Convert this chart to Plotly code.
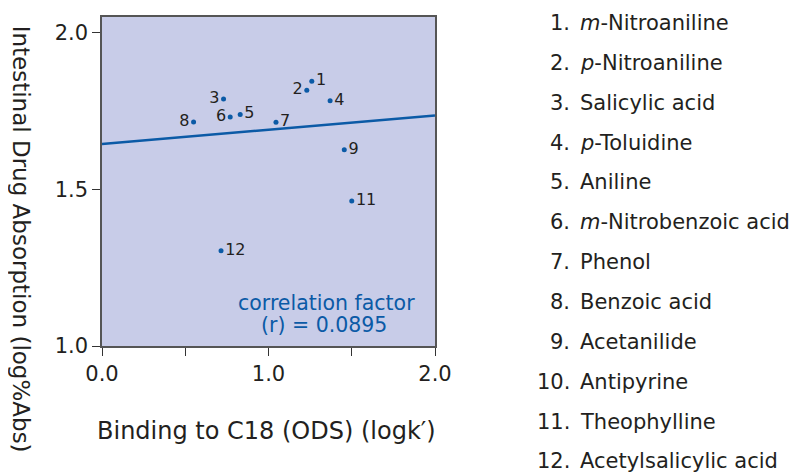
import plotly.graph_objects as go

# ---- data ----
point_ids = ["1", "2", "3", "4", "5", "6", "7", "8", "9", "11", "12"]
logk = [1.26, 1.23, 0.73, 1.37, 0.83, 0.77, 1.045, 0.55, 1.455, 1.50, 0.715]
log_abs = [1.845, 1.816, 1.788, 1.783, 1.739, 1.731, 1.714, 1.715, 1.626, 1.463, 1.304]
label_side = ["middle right", "middle left", "middle left", "middle right", "middle right",
              "middle left", "middle right", "middle left", "middle right", "middle right",
              "middle right"]
fit_x = [0.0, 2.0]
fit_y = [1.645, 1.736]
compound_numbers = ["1.", "2.", "3.", "4.", "5.", "6.", "7.", "8.", "9.", "10.", "11.", "12."]
compound_names = ["<i>m</i>-Nitroaniline", "<i>p</i>-Nitroaniline", "Salicylic acid",
                  "<i>p</i>-Toluidine", "Aniline", "<i>m</i>-Nitrobenzoic acid", "Phenol",
                  "Benzoic acid", "Acetanilide", "Antipyrine", "Theophylline",
                  "Acetylsalicylic acid"]
x_tickvals = [0.0, 0.5, 1.0, 1.5, 2.0]
x_ticktext = ["0.0", "", "1.0", "", "2.0"]
y_tickvals = [1.0, 1.5, 2.0]
y_ticktext = ["1.0", "1.5", "2.0"]

BLUE = "#0b5aa6"
TXT = "#231f20"
FONT = "DejaVu Sans"

OFF = 8  # page body margin
W, H = 799 - OFF, 472 - OFF
# plot area in reference-picture pixels
RL, RR, RT, RB = 102, 435, 15, 346
L, R, T, B = RL - OFF, RR - OFF, RT - OFF, RB - OFF


def px2paper(px, py):
    """reference-picture pixel -> paper coords"""
    return (px - RL) / (RR - RL), (RB - py) / (RB - RT)


fig = go.Figure()
fig.add_trace(go.Scatter(x=fit_x, y=fit_y, mode="lines",
                         line=dict(color=BLUE, width=2.5), hoverinfo="skip"))
fig.add_trace(go.Scatter(x=logk, y=log_abs, mode="markers+text", text=point_ids,
                         textposition=label_side,
                         textfont=dict(family=FONT, size=16, color=TXT),
                         marker=dict(color=BLUE, size=5)))

ann = []
# correlation text (two lines, tight spacing)
for txt, (px, py) in [("correlation factor", (326, 303)), ("(r) = 0.0895", (324, 325))]:
    cx, cy = px2paper(px, py)
    ann.append(dict(x=cx, y=cy, xref="paper", yref="paper", xanchor="center", yanchor="middle",
                    text=txt, showarrow=False, font=dict(family=FONT, size=20.5, color=BLUE)))
# y axis title (rotated clockwise)
yx, yy = px2paper(21, 238)
ann.append(dict(x=yx, y=yy, xref="paper", yref="paper", xanchor="center", yanchor="middle",
                text="Intestinal Drug Absorption (log%Abs)", textangle=90, showarrow=False,
                font=dict(family=FONT, size=23, color=TXT)))
# x axis title
xx, xy = px2paper(266, 432)
ann.append(dict(x=xx, y=xy, xref="paper", yref="paper", xanchor="center", yanchor="middle",
                text="Binding to C18 (ODS) (logk\u2032)", showarrow=False,
                font=dict(family=FONT, size=24, color=TXT)))
# compound list
for i, (num, name) in enumerate(zip(compound_numbers, compound_names)):
    py = 21 + i * 40.1
    nx, ny = px2paper(572, py)
    ann.append(dict(x=nx, y=ny, xref="paper", yref="paper", xanchor="right", yanchor="middle",
                    text=num, showarrow=False, font=dict(family=FONT, size=21, color=TXT)))
    mx, my = px2paper(578, py)
    ann.append(dict(x=mx, y=my, xref="paper", yref="paper", xanchor="left", yanchor="middle",
                    text=name, showarrow=False, font=dict(family=FONT, size=21, color=TXT)))

fig.update_layout(
    width=W, height=H,
    margin=dict(l=L, r=W - R, t=T, b=H - B),
    paper_bgcolor="white", plot_bgcolor="#c8cce8",
    showlegend=False,
    annotations=ann,
    xaxis=dict(range=[0, 2], tickvals=x_tickvals, ticktext=x_ticktext, ticks="outside",
               ticklen=8, tickwidth=1.3, tickcolor="#333", showgrid=False, zeroline=False,
               showline=True, linecolor="#555", linewidth=1.5, mirror=True,
               tickfont=dict(family=FONT, size=21, color=TXT)),
    yaxis=dict(range=[1.0, 2.05], tickvals=y_tickvals, ticktext=y_ticktext, ticks="outside",
               ticklen=8, tickwidth=1.3, tickcolor="#333", showgrid=False, zeroline=False,
               showline=True, linecolor="#555", linewidth=1.5, mirror=True,
               tickfont=dict(family=FONT, size=21, color=TXT)),
)

fig.write_html("out.html")
